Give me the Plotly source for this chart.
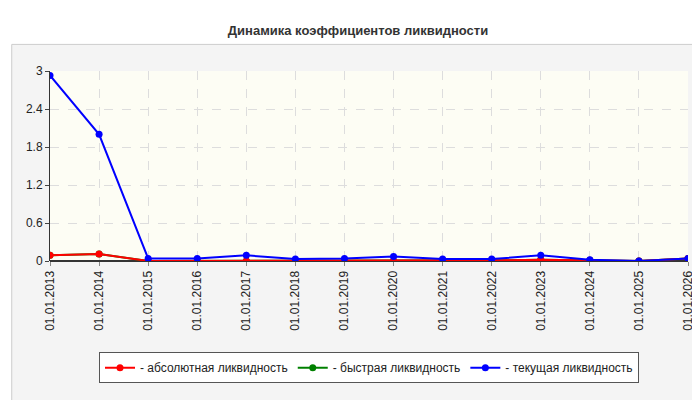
import plotly.graph_objects as go

dates = ["01.01.2013", "01.01.2014", "01.01.2015", "01.01.2016", "01.01.2017", "01.01.2018", "01.01.2019",
         "01.01.2020", "01.01.2021", "01.01.2022", "01.01.2023", "01.01.2024", "01.01.2025", "01.01.2026"]
absolute = [0.09, 0.11, 0.0, 0.0, 0.0, 0.0, 0.0, 0.0, 0.01, 0.01, 0.02, 0.01, 0.0, 0.04]
quick = [0.09, 0.11, 0.0, 0.0, 0.0, 0.0, 0.0, 0.0, 0.01, 0.01, 0.02, 0.01, 0.0, 0.04]
current = [2.93, 2.0, 0.04, 0.04, 0.09, 0.03, 0.04, 0.07, 0.03, 0.03, 0.09, 0.02, 0.0, 0.04]

fig = go.Figure()
# green first so red sits on top of it; legendrank keeps the reference order
for name, vals, col, rank in [("- быстрая ликвидность", quick, "green", 2),
                              ("- абсолютная ликвидность", absolute, "red", 1),
                              ("- текущая ликвидность", current, "blue", 3)]:
    fig.add_trace(go.Scatter(x=dates, y=vals, name=name, mode="lines+markers", legendrank=rank,
                             line=dict(color=col, width=2), marker=dict(color=col, size=7)))

fig.update_layout(
    width=700, height=400,
    title=dict(text="<b>Динамика коэффициентов ликвидности</b>", x=0.5, y=0.955,
               font=dict(family="Arial", size=13, color="#333")),
    paper_bgcolor="#ffffff", plot_bgcolor="#fdfdf4",
    margin=dict(l=42, r=20, t=63, b=147),
    font=dict(family="Arial", size=12, color="#222"),
    legend=dict(orientation="h", x=0.5, xanchor="center", y=-0.48, yanchor="top",
                bordercolor="#555", borderwidth=1, bgcolor="white"),
    xaxis=dict(tickangle=-90, showgrid=True, gridcolor="#ddd", griddash="dash", automargin=False,
               range=[0, 13], showline=False, ticks="outside", ticklen=4, tickcolor="#888"),
    yaxis=dict(range=[0, 3], tickvals=[0, 0.6, 1.2, 1.8, 2.4, 3], showgrid=True, gridcolor="#ddd",
               griddash="dash", zeroline=True, zerolinecolor="#333", showline=True, linecolor="#333",
               ticks="outside", ticklen=4, automargin=False),
)
fig.add_shape(type="rect", xref="paper", yref="paper", x0=-0.06, x1=1.03, y0=-0.96, y1=1.14,
              line=dict(color="#ccc", width=1), fillcolor="#f4f4f4", layer="below")
fig.add_shape(type="rect", xref="paper", yref="paper", x0=0, x1=1, y0=0, y1=1,
              line=dict(width=0), fillcolor="#fdfdf4", layer="below")
fig.write_html("out.html")
